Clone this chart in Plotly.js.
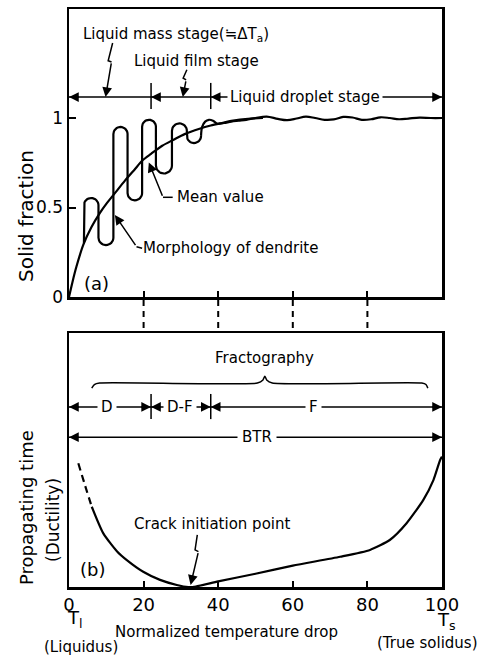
<!DOCTYPE html>
<html><head><meta charset="utf-8">
<script src="https://cdn.plot.ly/plotly-3.0.1.min.js"></script>
<style>html,body{margin:0;padding:0;background:#fff}#chart{width:481px;height:655px}</style>
</head><body><div id="chart"></div>
<script>
// ---------- data ----------
const xTickVals = [0, 20, 40, 60, 80, 100];
const xTickText = ['0', '20', '40', '60', '80', '100'];
const connectorX = [20, 40, 60, 80];
const solidTickVals = [0, 0.5, 1];
const solidTickText = ['0', '0.5', '1'];

// (a) mean solid fraction
const meanX = [0, 1, 2, 3.8, 6, 8.3, 10, 12.3, 15, 17.5, 19.8, 22, 25, 27.9, 31, 35, 38, 40.5, 44, 48, 52];
const meanY = [0, 0.09, 0.17, 0.29, 0.39, 0.47, 0.52, 0.58, 0.65, 0.71, 0.765, 0.8, 0.845, 0.877, 0.91, 0.94, 0.958, 0.97, 0.985, 0.995, 1.0];

// (a) dendrite morphology: column positions and turn levels (top/bottom alternately)
const dendriteColX = [4.0, 7.9, 11.9, 15.7, 19.6, 23.3, 27.6, 31.6, 35.4];
const dendriteTurnY = [0.553, 0.29, 0.95, 0.54, 0.99, 0.69, 0.97, 0.86];
const dendriteStartY = 0.30;
// wavy tail of the dendrite (liquid droplet stage)
const wavyX = [35.4, 35.7, 36.5, 37.5, 38.6, 39.8, 41.5, 43.5, 45.5, 47.5, 50, 53, 56, 58.5, 61, 63.5, 66, 68.5, 71, 73.5, 76, 78.5, 81, 83.5, 86, 88.5, 91, 94, 97, 100];
const wavyY = [0.90, 0.95, 0.98, 0.99, 0.985, 0.968, 0.972, 0.98, 0.985, 0.99, 1.0, 1.008, 0.995, 0.988, 0.997, 1.008, 1.0, 0.99, 0.992, 1.006, 1.003, 0.99, 0.993, 1.004, 1.0, 0.993, 0.997, 1.002, 1.0, 1.0];

// stage boundaries
const stageBounds = [0, 22, 38, 100];
const fractoBounds = [0, 22, 38, 100];
const fractoLabels = ['D', 'D-F', 'F'];
const fractoLabelX = [10.3, 29.8, 65.5];

// (b) ductility curve
const ductDashX = [2.5, 4.3, 6.1];
const ductDashY = [0.487, 0.40, 0.316];
const ductX = [6.1, 9.2, 12.9, 15.5, 19.9, 24.4, 28.9, 32, 34, 40, 50, 60, 72.7, 80.7, 86, 90.5, 95, 97.7, 99.5, 100];
const ductY = [0.316, 0.211, 0.14, 0.106, 0.06, 0.028, 0.008, 0.0, 0.002, 0.022, 0.052, 0.084, 0.119, 0.146, 0.185, 0.251, 0.343, 0.421, 0.5, 0.513];

// brace over "Fractography"
const braceX = [6.1, 6.8, 8.2, 50.5, 52.0, 52.5, 53.0, 54.5, 94.6, 95.7, 96.2];
const braceY = [0.783, 0.797, 0.803, 0.803, 0.815, 0.830, 0.815, 0.803, 0.803, 0.797, 0.783];

// ---------- geometry ----------
const W = 481, H = 655;
const M = {l: 69, r: 39, t: 9, b: 68};
const plotW = W - M.l - M.r, plotH = H - M.t - M.b;
const topDomain = [(587 - 297) / plotH, 1];
const botDomain = [0, (587 - 333) / plotH];
const yTopMax = 1.609;
const pxPerX = plotW / 100;
const pxPerYTop = (topDomain[1] - topDomain[0]) * plotH / yTopMax;

// build dendrite meander path from columns and turn levels
const dX = [dendriteColX[0]], dY = [dendriteStartY];
for (let i = 0; i < dendriteTurnY.length; i++) {
  const x0 = dendriteColX[i], x1 = dendriteColX[i + 1];
  const rx = (x1 - x0) / 2, xc = (x0 + x1) / 2;
  const ry = rx * pxPerX / pxPerYTop;
  const top = (i % 2 === 0);
  const base = top ? dendriteTurnY[i] - ry : dendriteTurnY[i] + ry;
  for (let k = 0; k <= 16; k++) {
    const th = Math.PI - Math.PI * k / 16;
    dX.push(xc + rx * Math.cos(th));
    dY.push(top ? base + ry * Math.sin(th) : base - ry * Math.sin(th));
  }
}

const LW = 2.2;
const blk = '#000';
const traces = [];
const line = (x, y, xa, ya, extra) => Object.assign({x, y, xaxis: xa, yaxis: ya, mode: 'lines', line: {color: blk, width: LW}, hoverinfo: 'skip', showlegend: false, cliponaxis: false}, extra || {});

// top panel
traces.push(line(meanX, meanY, 'x', 'y', {line: {color: blk, width: LW, shape: 'spline', smoothing: 0.8}}));
traces.push(line(dX, dY, 'x', 'y'));
traces.push(line(wavyX, wavyY, 'x', 'y', {line: {color: blk, width: LW, shape: 'spline', smoothing: 1}}));

// stage row (top)
const stageY = 1.117;
traces.push(line([stageBounds[0], stageBounds[stageBounds.length - 1]], [stageY, stageY], 'x', 'y', {line: {color: blk, width: 1.5}}));
const sdx = [], sdy = [];
stageBounds.slice(1, -1).forEach(b => { sdx.push(b, b, null); sdy.push(1.05, 1.196, null); });
traces.push(line(sdx, sdy, 'x', 'y', {line: {color: blk, width: 1.5}}));

// zigzag pointers (top)
traces.push(line([11.7, 10.5, 11.4], [1.419, 1.32, 1.313], 'x', 'y', {line: {color: blk, width: 1.5}}));
traces.push(line([31.6, 30.6, 31.4], [1.27, 1.223, 1.213], 'x', 'y', {line: {color: blk, width: 1.5}}));
// leaders
traces.push(line([27.8, 25.2], [0.557, 0.557], 'x', 'y', {line: {color: blk, width: 1.5}}));
traces.push(line([19.6, 18.1], [0.272, 0.281], 'x', 'y', {line: {color: blk, width: 1.5}}));

// bottom panel
traces.push(line(ductDashX, ductDashY, 'x2', 'y2', {line: {color: blk, width: LW, dash: '7px,5px', shape: 'spline'}}));
traces.push(line(ductX, ductY, 'x2', 'y2', {line: {color: blk, width: LW, shape: 'spline', smoothing: 0.6}}));
traces.push(line(braceX, braceY, 'x2', 'y2', {line: {color: blk, width: 1.5, shape: 'spline', smoothing: 0.6}}));
const fY = 0.709, btrY = 0.59;
traces.push(line([fractoBounds[0], fractoBounds[fractoBounds.length - 1]], [fY, fY], 'x2', 'y2', {line: {color: blk, width: 1.5}}));
const fdx = [], fdy = [];
fractoBounds.slice(1, -1).forEach(b => { fdx.push(b, b, null); fdy.push(0.661, 0.76, null); });
traces.push(line(fdx, fdy, 'x2', 'y2', {line: {color: blk, width: 1.5}}));
traces.push(line([0, 100], [btrY, btrY], 'x2', 'y2', {line: {color: blk, width: 1.5}}));
traces.push(line([34.4, 33.8, 34.7], [0.205, 0.146, 0.139], 'x2', 'y2', {line: {color: blk, width: 1.5}}));

// ---------- annotations ----------
const F = 'DejaVu Sans, Arial, sans-serif';
const ann = [];
const txt = (x, y, text, xr, yr, o) => ann.push(Object.assign({x, y, text, xref: xr, yref: yr, xanchor: 'center', yanchor: 'middle', showarrow: false, font: {family: F, size: 15, color: blk}}, o || {}));
const head = (x, y, ax, ay, xr, yr) => ann.push({x, y, ax, ay, xref: xr, yref: yr, axref: xr, ayref: yr, text: '', showarrow: true, arrowhead: 2, arrowsize: 1.3, arrowwidth: 1.5, arrowcolor: blk, standoff: 0});

// top panel text
txt(3.2, 1.464, 'Liquid mass stage(≒ΔT<sub>a</sub>)', 'x', 'y', {xanchor: 'left'});
txt(16.9, 1.318, 'Liquid film stage', 'x', 'y', {xanchor: 'left'});
txt(63.4, stageY, 'Liquid droplet stage', 'x', 'y', {bgcolor: '#fff', borderpad: 2});
txt(28.3, 0.559, 'Mean value', 'x', 'y', {xanchor: 'left'});
txt(19.4, 0.272, 'Morphology of dendrite', 'x', 'y', {xanchor: 'left'});
txt(7.5, 0.078, '(a)', 'x', 'y', {font: {family: F, size: 18, color: blk}});
// top arrowheads
head(0, stageY, 3, stageY, 'x', 'y');
head(100, stageY, 97, stageY, 'x', 'y');
head(stageBounds[1], stageY, stageBounds[1] + 3, stageY, 'x', 'y');
head(stageBounds[2], stageY, stageBounds[2] + 3, stageY, 'x', 'y');
head(9.8, 1.117, 11.4, 1.313, 'x', 'y');
head(30.5, 1.117, 31.4, 1.213, 'x', 'y');
head(21.4, 0.752, 25.2, 0.557, 'x', 'y');
head(12.3, 0.458, 18.1, 0.281, 'x', 'y');

// bottom panel text
txt(52.5, 0.9, 'Fractography', 'x2', 'y2');
fractoLabels.forEach((t, i) => txt(fractoLabelX[i], fY, t, 'x2', 'y2', {bgcolor: '#fff', borderpad: 3}));
txt(50.3, btrY, 'BTR', 'x2', 'y2', {bgcolor: '#fff', borderpad: 4});
txt(38.3, 0.248, 'Crack initiation point', 'x2', 'y2');
txt(6.2, 0.067, '(b)', 'x2', 'y2', {font: {family: F, size: 18, color: blk}});
head(0, fY, 3, fY, 'x2', 'y2');
head(fractoBounds[1], fY, fractoBounds[1] - 3, fY, 'x2', 'y2');
head(fractoBounds[1], fY, fractoBounds[1] + 3, fY, 'x2', 'y2');
head(fractoBounds[2], fY, fractoBounds[2] - 3, fY, 'x2', 'y2');
head(fractoBounds[2], fY, fractoBounds[2] + 3, fY, 'x2', 'y2');
head(100, fY, 97, fY, 'x2', 'y2');
head(0, btrY, 3, btrY, 'x2', 'y2');
head(100, btrY, 97, btrY, 'x2', 'y2');
head(32.6, 0.008, 34.7, 0.139, 'x2', 'y2');

// axis titles and bottom labels (paper coords)
const px2x = p => (p - M.l) / plotW;
const py2y = p => (H - M.b - p) / plotH;
txt(px2x(26), py2y(216), 'Solid fraction', 'paper', 'paper', {textangle: -90, font: {family: F, size: 20, color: blk}});
txt(px2x(26), py2y(508), 'Propagating time', 'paper', 'paper', {textangle: -90, font: {family: F, size: 18, color: blk}});
txt(px2x(53), py2y(520), '(Ductility)', 'paper', 'paper', {textangle: -90, font: {family: F, size: 17, color: blk}});
txt(px2x(75), py2y(619), 'T<sub>l</sub>', 'paper', 'paper', {font: {family: F, size: 18, color: blk}});
txt(px2x(81), py2y(647), '(Liquidus)', 'paper', 'paper', {font: {family: F, size: 15, color: blk}});
txt(px2x(226), py2y(632), 'Normalized temperature drop', 'paper', 'paper', {font: {family: F, size: 15, color: blk}});
txt(px2x(446), py2y(621), 'T<sub>s</sub>', 'paper', 'paper', {font: {family: F, size: 18, color: blk}});
txt(px2x(427), py2y(643), '(True solidus)', 'paper', 'paper', {font: {family: F, size: 15, color: blk}});

// dashed connectors between the panels
const shapes = connectorX.map(x => ({type: 'line', xref: 'x', yref: 'paper', x0: x, x1: x, y0: py2y(300), y1: py2y(332), line: {color: blk, width: 2, dash: '6px,5px'}}));

const axBase = {showline: true, mirror: true, linecolor: blk, linewidth: 2.5, showgrid: false, zeroline: false, fixedrange: true, tickcolor: blk, tickwidth: 2, tickfont: {family: F, size: 18, color: blk}};

const layout = {
  width: W, height: H, margin: M,
  paper_bgcolor: '#fff', plot_bgcolor: '#fff', showlegend: false,
  xaxis: Object.assign({}, axBase, {domain: [0, 1], anchor: 'y', range: [0, 100], tickvals: connectorX, ticks: 'inside', ticklen: 6, showticklabels: false}),
  yaxis: Object.assign({}, axBase, {domain: topDomain, anchor: 'x', range: [0, yTopMax], tickvals: solidTickVals, ticktext: solidTickText, ticks: 'inside', ticklen: 7, tickfont: {family: F, size: 17, color: blk}}),
  xaxis2: Object.assign({}, axBase, {domain: [0, 1], anchor: 'y2', range: [0, 100], tickvals: xTickVals, ticktext: xTickText, ticks: 'inside', ticklen: 6}),
  yaxis2: Object.assign({}, axBase, {domain: botDomain, anchor: 'x2', range: [0, 1], showticklabels: false, ticks: ''}),
  annotations: ann,
  shapes: shapes
};

Plotly.newPlot('chart', traces, layout, {staticPlot: true, displayModeBar: false});
</script>
</body></html>
